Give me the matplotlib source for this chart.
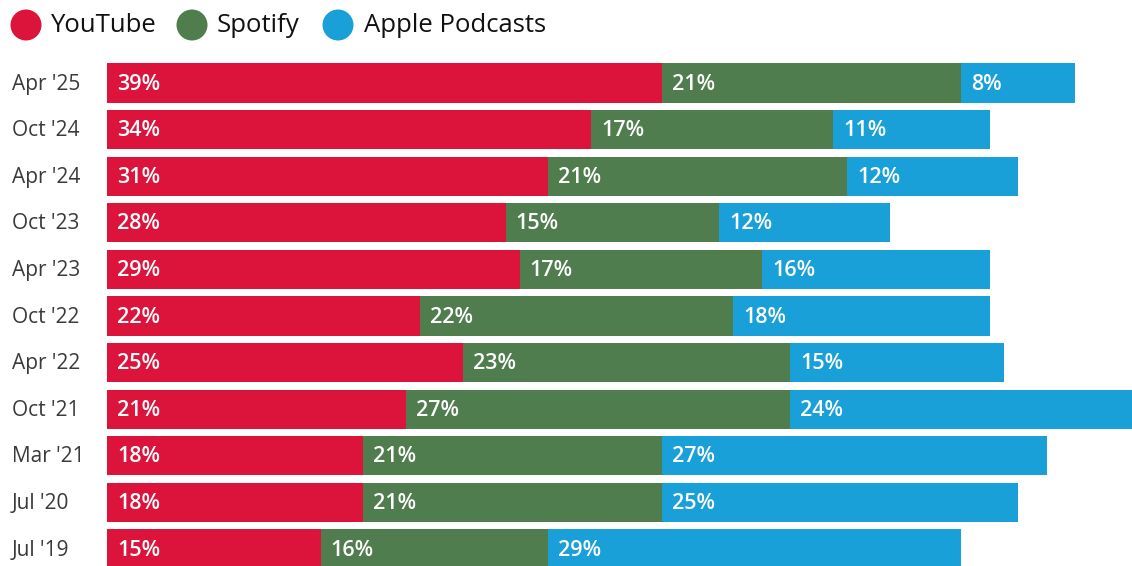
import matplotlib
matplotlib.use("Agg")
import matplotlib.pyplot as plt
from matplotlib.patches import Ellipse

periods = ["Apr '25", "Oct '24", "Apr '24", "Oct '23", "Apr '23", "Oct '22",
           "Apr '22", "Oct '21", "Mar '21", "Jul '20", "Jul '19"]
youtube = [39, 34, 31, 28, 29, 22, 25, 21, 18, 18, 15]
spotify = [21, 17, 21, 15, 17, 22, 23, 27, 21, 21, 16]
apple = [8, 11, 12, 12, 16, 18, 15, 24, 27, 25, 29]
series_names = ["YouTube", "Spotify", "Apple Podcasts"]
colors = ["#DC143C", "#4F7D4D", "#1AA0D8"]

W, H = 1132, 566
fig = plt.figure(figsize=(W / 100, H / 100), dpi=100)
fig.patch.set_facecolor("white")

# axes in pixel layout
left_px, right_px, top_px, bottom_px = 107, 1132, 60, 566
ax = fig.add_axes([left_px / W, 1 - bottom_px / H, (right_px - left_px) / W, (bottom_px - top_px) / H])
row_step = 46.6
first_center = 83
ax.set_xlim(0, 72)
ax.set_ylim((bottom_px - first_center) / row_step, -(first_center - top_px) / row_step)
ax.axis("off")

ypos = list(range(len(periods)))
bar_h = 0.84
lefts = [0] * len(periods)
for name, vals, col in zip(series_names, [youtube, spotify, apple], colors):
    ax.barh(ypos, vals, left=lefts, height=bar_h, color=col, edgecolor="none")
    for y, l, v in zip(ypos, lefts, vals):
        ax.annotate(f"{v}%", xy=(l, y), xytext=(10, -1), textcoords="offset pixels",
                    ha="left", va="center", color="white", fontsize=15.5,
                    fontfamily="Open Sans", fontweight="semibold")
    lefts = [a + b for a, b in zip(lefts, vals)]

# category labels
for y, p in zip(ypos, periods):
    ax.annotate(p, xy=(0, y), xycoords=("axes fraction", "data"),
                xytext=(12 - left_px, -1), textcoords="offset pixels",
                ha="left", va="center", color="#3a3a3a", fontsize=15,
                fontfamily="Open Sans")

# legend
leg_x = [26, 192, 338]
text_x = [50, 217, 364]
for x, tx, name, col in zip(leg_x, text_x, series_names, colors):
    e = Ellipse((x / W, 1 - 25 / H), 31 / W, 31 / H, transform=fig.transFigure,
                facecolor=col, edgecolor="none")
    fig.patches.append(e)
    fig.text(tx / W, 1 - 32 / H, name, ha="left", va="baseline",
             fontsize=18.5, color="#111111", fontfamily="Open Sans")

fig.savefig("out.png", dpi=100)
